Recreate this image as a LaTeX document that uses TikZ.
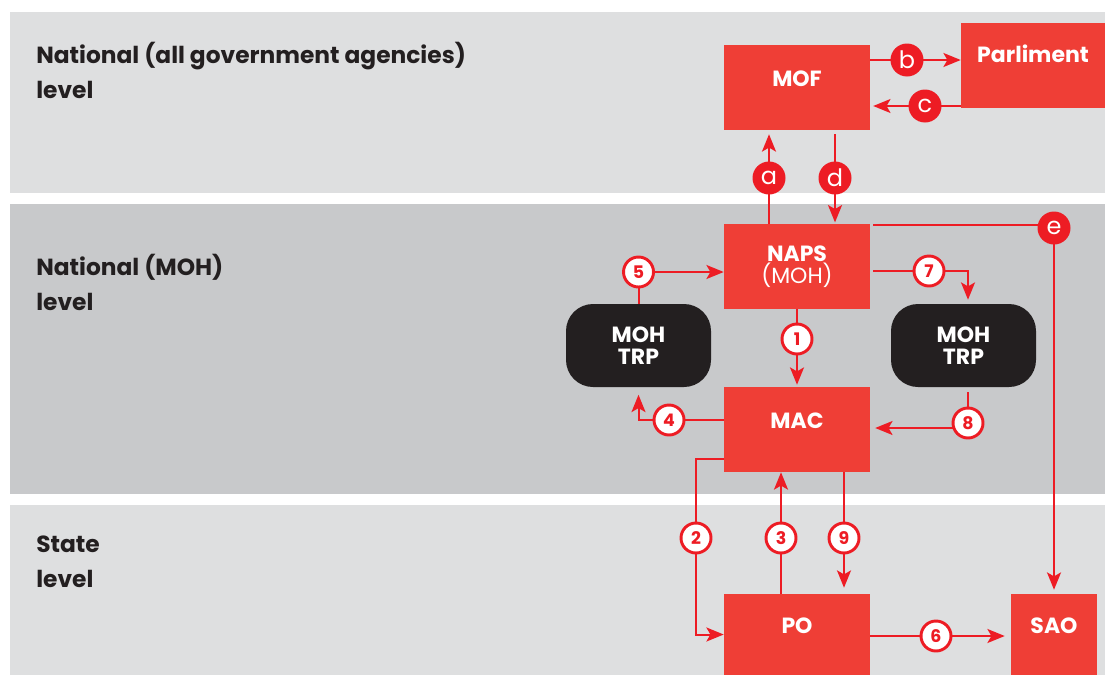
\documentclass[tikz,border=0pt]{standalone}
\usepackage{fontspec}
\setmainfont{Poppins}
\usetikzlibrary{arrows.meta,calc}
\definecolor{bandA}{HTML}{DEDFE0}
\definecolor{bandB}{HTML}{C8C9CB}
\definecolor{boxred}{HTML}{EF3E36}
\definecolor{linered}{HTML}{ED1C24}
\definecolor{pillc}{HTML}{231F20}
\definecolor{txt}{HTML}{231F20}
\newlength\pxu \setlength\pxu{0.75pt}
\pgfdeclarelayer{bands}\pgfdeclarelayer{lines}
\pgfsetlayers{bands,lines,main}
\tikzset{
  redbox/.style={fill=boxred, text=white, inner sep=0pt, align=center,
    minimum width=146\pxu, minimum height=85\pxu,
    font=\bfseries\fontsize{16.5}{16.5}\selectfont},
  uplabel/.style={text height=12pt, text depth=14pt},
  pillbox/.style={fill=pillc, text=white, inner sep=0pt, align=center,
    rounded corners=27\pxu, minimum width=145\pxu, minimum height=83\pxu,
    font=\bfseries\fontsize{16.5}{16.5}\selectfont},
  letc/.style={circle, fill=linered, text=white, minimum size=33\pxu, inner sep=0pt,
    font=\fontsize{18}{18}\selectfont},
  numc/.style={circle, draw=linered, line width=2.2pt, fill=white, text=linered,
    minimum size=30\pxu, inner sep=0pt, font=\bfseries\fontsize{13}{13}\selectfont},
  arr/.style={draw=linered, line width=1.5pt,
    -{Stealth[length=13pt, width=10.5pt, inset=3pt]}},
  heading/.style={anchor=base west, align=left, inner sep=0pt, text=txt,
    font=\bfseries\fontsize{17.5}{26.25}\selectfont},
}
\begin{document}
\begin{tikzpicture}[x=0.75pt, y=-0.75pt]
\useasboundingbox (0,0) rectangle (1105,675);
\begin{pgfonlayer}{bands}
  \fill[bandA] (10,12) rectangle (1105,193);
  \fill[bandB] (10,204) rectangle (1105,494);
  \fill[bandA] (10,505) rectangle (1105,675);
\end{pgfonlayer}

% headings (anchor = baseline of the last line)
\node[heading] (h1) at (36,98) {National (all government agencies)\\level};
\node[heading] (h2) at (36,310) {National (MOH)\\level};
\node[heading] (h3) at (36,587) {State\\level};

% boxes
\node[redbox, uplabel] (MOF) at (797,87.5) {MOF};
\node[redbox, minimum width=144\pxu, text height=12pt, text depth=16.5pt] (Parl) at (1033,65.5) {Parliment};
\node[redbox] (NAPS) at (797,266.5) {NAPS\\{\mdseries(MOH)}};
\node[redbox, uplabel] (MAC) at (797,429.5) {MAC};
\node[redbox, uplabel, minimum height=81\pxu] (PO) at (797,634.5) {PO};
\node[redbox, uplabel, minimum width=86\pxu, minimum height=81\pxu] (SAO) at (1054,634.5) {SAO};
\node[pillbox] (TRPL) at (638.5,345.5) {MOH\\TRP};
\node[pillbox] (TRPR) at (963.5,345.5) {MOH\\TRP};

% circles
\node[letc] (ca) at (769,178) {a};
\node[letc] (cd) at (835,178) {d};
\node[letc] (cb) at (907,60) {b};
\node[letc] (cc) at (925,106) {c};
\node[letc] (ce) at (1054,228) {e};
\node[numc] (c1) at (797,339) {1};
\node[numc] (c2) at (696,538) {2};
\node[numc] (c3) at (781,538) {3};
\node[numc] (c4) at (669,420) {4};
\node[numc] (c5) at (638.5,272) {5};
\node[numc] (c6) at (936,636) {6};
\node[numc] (c7) at (929,271) {7};
\node[numc] (c8) at (968,423) {8};
\node[numc] (c9) at (844,538) {9};

\begin{pgfonlayer}{lines}
  \draw[arr, shorten >=3pt] (NAPS.north -| ca) -- (ca |- MOF.south);
  \draw[arr, shorten <=3pt, shorten >=1pt] (MOF.south -| cd) -- (cd |- NAPS.north);
  \draw[arr] (MOF.east |- cb) -- (Parl.west |- cb);
  \draw[arr, shorten >=2.2pt] (Parl.west |- cc) -- (MOF.east |- cc);
  \draw[arr, shorten >=3pt] ($(NAPS.north east)+(3,1)$) -| (ce |- SAO.north);
  \draw[arr] (TRPL.north) |- (NAPS.west |- c5);
  \draw[arr, shorten >=3pt] ($(NAPS.east |- c7)+(3,0)$) -| ($(TRPR.north)+(4.5,0)$);
  \draw[arr, shorten >=1.5pt] (NAPS.south) -- (MAC.north);
  \draw[arr, shorten >=4.5pt] (MAC.west |- c4) -| ($(TRPL.south)+(0,1.5)$);
  \draw[arr, shorten >=3.7pt] ($(TRPR.south)+(4.5,5)$) |- ($(MAC.east)+(0,-1.5)$);
  \draw[arr] ($(MAC.south west)+(0,-13)$) -| (c2.center) |- (PO.west);
  \draw[arr] (PO.north -| c3) -- (c3 |- MAC.south);
  \draw[arr, shorten >=4.5pt] (MAC.south -| c9) -- (c9 |- PO.north);
  \draw[arr, shorten >=4.5pt] (PO.east |- c6) -- (SAO.west |- c6);
\end{pgfonlayer}
\end{tikzpicture}
\end{document}
